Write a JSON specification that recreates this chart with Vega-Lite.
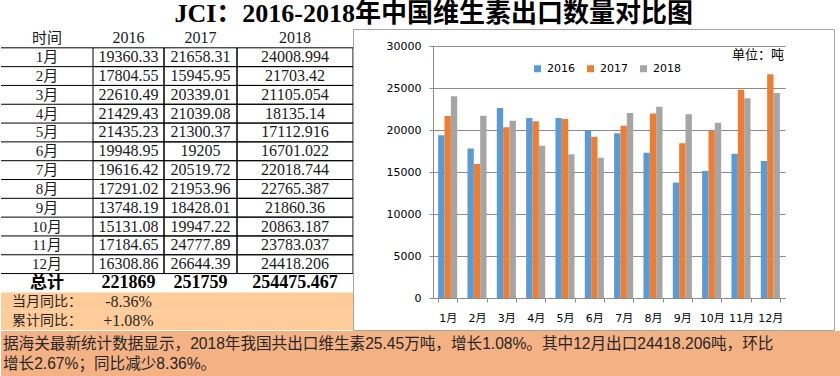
{
  "$schema": "https://vega.github.io/schema/vega-lite/v6.json",
  "padding": 0,
  "background": "white",
  "spacing": 0,
  "resolve": {"legend": {"color": "independent"}},
  "config": {"concat": {"spacing": 0}, "view": {"stroke": null}},
  "title": {"text": "JCI：2016-2018年中国维生素出口数量对比图", "fontSize": 26, "font": "Liberation Serif, Noto Sans CJK SC", "fontWeight": "bold", "anchor": "middle", "dx": 13, "offset": 2, "color": "black"},
  "datasets": {
    "exports": [
      {"month": "1月", "year": "2016", "value": 19360.33},
      {"month": "2月", "year": "2016", "value": 17804.55},
      {"month": "3月", "year": "2016", "value": 22610.49},
      {"month": "4月", "year": "2016", "value": 21429.43},
      {"month": "5月", "year": "2016", "value": 21435.23},
      {"month": "6月", "year": "2016", "value": 19948.95},
      {"month": "7月", "year": "2016", "value": 19616.42},
      {"month": "8月", "year": "2016", "value": 17291.02},
      {"month": "9月", "year": "2016", "value": 13748.19},
      {"month": "10月", "year": "2016", "value": 15131.08},
      {"month": "11月", "year": "2016", "value": 17184.65},
      {"month": "12月", "year": "2016", "value": 16308.86},
      {"month": "1月", "year": "2017", "value": 21658.31},
      {"month": "2月", "year": "2017", "value": 15945.95},
      {"month": "3月", "year": "2017", "value": 20339.01},
      {"month": "4月", "year": "2017", "value": 21039.08},
      {"month": "5月", "year": "2017", "value": 21300.37},
      {"month": "6月", "year": "2017", "value": 19205},
      {"month": "7月", "year": "2017", "value": 20519.72},
      {"month": "8月", "year": "2017", "value": 21953.96},
      {"month": "9月", "year": "2017", "value": 18428.01},
      {"month": "10月", "year": "2017", "value": 19947.22},
      {"month": "11月", "year": "2017", "value": 24777.89},
      {"month": "12月", "year": "2017", "value": 26644.39},
      {"month": "1月", "year": "2018", "value": 24008.994},
      {"month": "2月", "year": "2018", "value": 21703.42},
      {"month": "3月", "year": "2018", "value": 21105.054},
      {"month": "4月", "year": "2018", "value": 18135.14},
      {"month": "5月", "year": "2018", "value": 17112.916},
      {"month": "6月", "year": "2018", "value": 16701.022},
      {"month": "7月", "year": "2018", "value": 22018.744},
      {"month": "8月", "year": "2018", "value": 22765.387},
      {"month": "9月", "year": "2018", "value": 21860.36},
      {"month": "10月", "year": "2018", "value": 20863.187},
      {"month": "11月", "year": "2018", "value": 23783.037},
      {"month": "12月", "year": "2018", "value": 24418.206}
    ],
    "totals": [
      {"year": "2016", "total": 221869},
      {"year": "2017", "total": 251759},
      {"year": "2018", "total": 254475.467}
    ],
    "yoy": [
      {"label": "当月同比：", "change": "-8.36%"},
      {"label": "累计同比：", "change": "+1.08%"}
    ]
  },
  "vconcat": [
    {
      "spacing": 0,
      "bounds": "flush",
      "resolve": {"legend": {"color": "independent"}},
      "hconcat": [
        {
          "width": 92, "height": 301,
          "view": {"stroke": null},
          "layer": [
            {
              "data": {"name": "yoy"},
              "mark": {"type": "rect", "fill": "#FFCC99"},
              "encoding": {"y": {"field": "label", "type": "nominal", "scale": {"domain": ["时间","1月","2月","3月","4月","5月","6月","7月","8月","9月","10月","11月","12月","总计","当月同比：","累计同比："], "paddingInner": 0, "paddingOuter": 0}, "axis": null}}
            },
            {
              "data": {"name": "exports"},
              "transform": [{"filter": "datum.year == '2016'"}],
              "mark": {"type": "rule", "color": "black", "strokeWidth": 1},
              "encoding": {"y": {"field": "month", "type": "nominal", "bandPosition": 0, "axis": null}}
            },
            {
              "data": {"name": "totals"},
              "transform": [{"filter": "datum.year == '2016'"}],
              "mark": {"type": "rule", "color": "black", "strokeWidth": 1},
              "encoding": {"y": {"datum": "总计", "type": "nominal", "bandPosition": 0, "axis": null}}
            },
            {
              "data": {"name": "exports"},
              "transform": [{"filter": "datum.year == '2016'"}],
              "mark": {"type": "text", "font": "Liberation Serif, Noto Sans CJK SC", "fontSize": 15, "color": "#1a1a1a"},
              "encoding": {"y": {"field": "month", "type": "nominal", "axis": null}, "text": {"field": "month", "type": "nominal"}}
            },
            {
              "data": {"name": "totals"},
              "transform": [{"filter": "datum.year == '2016'"}],
              "mark": {"type": "text", "font": "Noto Sans CJK SC", "fontSize": 15, "color": "#1a1a1a"},
              "encoding": {"y": {"datum": "时间", "type": "nominal", "axis": null}, "text": {"value": "时间"}}
            },
            {
              "data": {"name": "totals"},
              "transform": [{"filter": "datum.year == '2016'"}],
              "mark": {"type": "text", "font": "Noto Sans CJK SC", "fontSize": 17, "fontWeight": "bold", "color": "black"},
              "encoding": {"y": {"datum": "总计", "type": "nominal", "axis": null}, "text": {"value": "总计"}}
            },
            {
              "data": {"name": "yoy"},
              "mark": {"type": "text", "font": "Noto Sans CJK SC", "fontSize": 14, "color": "#262626"},
              "encoding": {"y": {"field": "label", "type": "nominal", "axis": null}, "text": {"field": "label", "type": "nominal"}}
            }
          ]
        },
        {
          "width": 71, "height": 301,
          "view": {"stroke": null},
          "layer": [
            {
              "data": {"name": "yoy"},
              "mark": {"type": "rect", "fill": "#FFCC99"},
              "encoding": {"y": {"field": "label", "type": "nominal", "scale": {"domain": ["时间","1月","2月","3月","4月","5月","6月","7月","8月","9月","10月","11月","12月","总计","当月同比：","累计同比："], "paddingInner": 0, "paddingOuter": 0}, "axis": null}}
            },
            {
              "data": {"name": "exports"},
              "transform": [{"filter": "datum.year == '2016'"}],
              "mark": {"type": "rect", "fill": "white", "fillOpacity": 0, "stroke": "black", "strokeWidth": 1},
              "encoding": {"y": {"field": "month", "type": "nominal", "axis": null}}
            },
            {
              "data": {"name": "exports"},
              "transform": [{"filter": "datum.year == '2016'"}],
              "mark": {"type": "text", "font": "Liberation Serif", "fontSize": 16, "color": "#1a1a1a"},
              "encoding": {"y": {"field": "month", "type": "nominal", "axis": null}, "text": {"field": "value", "type": "nominal"}}
            },
            {
              "data": {"name": "totals"},
              "transform": [{"filter": "datum.year == '2016'"}],
              "mark": {"type": "text", "font": "Liberation Serif", "fontSize": 16, "color": "#1a1a1a"},
              "encoding": {"y": {"datum": "时间", "type": "nominal", "axis": null}, "text": {"field": "year", "type": "nominal"}}
            },
            {
              "data": {"name": "totals"},
              "transform": [{"filter": "datum.year == '2016'"}],
              "mark": {"type": "text", "font": "Liberation Serif", "fontSize": 18, "fontWeight": "bold", "color": "black"},
              "encoding": {"y": {"datum": "总计", "type": "nominal", "axis": null}, "text": {"field": "total", "type": "nominal"}}
            },
            {
              "data": {"name": "yoy"},
              "mark": {"type": "text", "font": "Liberation Serif", "fontSize": 16, "color": "#262626"},
              "encoding": {"y": {"field": "label", "type": "nominal", "axis": null}, "text": {"field": "change", "type": "nominal"}}
            }
          ]
        },
        {
          "width": 73, "height": 301,
          "view": {"stroke": null},
          "layer": [
            {
              "data": {"name": "yoy"},
              "mark": {"type": "rect", "fill": "#FFCC99"},
              "encoding": {"y": {"field": "label", "type": "nominal", "scale": {"domain": ["时间","1月","2月","3月","4月","5月","6月","7月","8月","9月","10月","11月","12月","总计","当月同比：","累计同比："], "paddingInner": 0, "paddingOuter": 0}, "axis": null}}
            },
            {
              "data": {"name": "exports"},
              "transform": [{"filter": "datum.year == '2017'"}],
              "mark": {"type": "rect", "fill": "white", "fillOpacity": 0, "stroke": "black", "strokeWidth": 1},
              "encoding": {"y": {"field": "month", "type": "nominal", "axis": null}}
            },
            {
              "data": {"name": "exports"},
              "transform": [{"filter": "datum.year == '2017'"}],
              "mark": {"type": "text", "font": "Liberation Serif", "fontSize": 16, "color": "#1a1a1a"},
              "encoding": {"y": {"field": "month", "type": "nominal", "axis": null}, "text": {"field": "value", "type": "nominal"}}
            },
            {
              "data": {"name": "totals"},
              "transform": [{"filter": "datum.year == '2017'"}],
              "mark": {"type": "text", "font": "Liberation Serif", "fontSize": 16, "color": "#1a1a1a"},
              "encoding": {"y": {"datum": "时间", "type": "nominal", "axis": null}, "text": {"field": "year", "type": "nominal"}}
            },
            {
              "data": {"name": "totals"},
              "transform": [{"filter": "datum.year == '2017'"}],
              "mark": {"type": "text", "font": "Liberation Serif", "fontSize": 18, "fontWeight": "bold", "color": "black"},
              "encoding": {"y": {"datum": "总计", "type": "nominal", "axis": null}, "text": {"field": "total", "type": "nominal"}}
            }
          ]
        },
        {
          "width": 116, "height": 301,
          "view": {"stroke": null},
          "layer": [
            {
              "data": {"name": "yoy"},
              "mark": {"type": "rect", "fill": "#FFCC99"},
              "encoding": {"y": {"field": "label", "type": "nominal", "scale": {"domain": ["时间","1月","2月","3月","4月","5月","6月","7月","8月","9月","10月","11月","12月","总计","当月同比：","累计同比："], "paddingInner": 0, "paddingOuter": 0}, "axis": null}}
            },
            {
              "data": {"name": "exports"},
              "transform": [{"filter": "datum.year == '2018'"}],
              "mark": {"type": "rect", "fill": "white", "fillOpacity": 0, "stroke": "black", "strokeWidth": 1},
              "encoding": {"y": {"field": "month", "type": "nominal", "axis": null}}
            },
            {
              "data": {"name": "exports"},
              "transform": [{"filter": "datum.year == '2018'"}],
              "mark": {"type": "text", "font": "Liberation Serif", "fontSize": 16, "color": "#1a1a1a"},
              "encoding": {"y": {"field": "month", "type": "nominal", "axis": null}, "text": {"field": "value", "type": "nominal"}}
            },
            {
              "data": {"name": "totals"},
              "transform": [{"filter": "datum.year == '2018'"}],
              "mark": {"type": "text", "font": "Liberation Serif", "fontSize": 16, "color": "#1a1a1a"},
              "encoding": {"y": {"datum": "时间", "type": "nominal", "axis": null}, "text": {"field": "year", "type": "nominal"}}
            },
            {
              "data": {"name": "totals"},
              "transform": [{"filter": "datum.year == '2018'"}],
              "mark": {"type": "text", "font": "Liberation Serif", "fontSize": 18, "fontWeight": "bold", "color": "black"},
              "encoding": {"y": {"datum": "总计", "type": "nominal", "axis": null}, "text": {"field": "total", "type": "nominal"}}
            }
          ]
        },
        {
          "width": 481, "height": 301,
          "view": {"stroke": "#A6A6A6", "fill": "white"},
          "title": {"text": "单位：吨", "anchor": "end", "orient": "top", "offset": -33, "dx": -50, "baseline": "top", "fontSize": 13, "fontWeight": "normal", "font": "Noto Sans CJK SC", "color": "black"},
          "data": {"name": "exports"},
          "mark": {"type": "bar"},
          "encoding": {
            "x": {"field": "month", "type": "nominal",
                  "scale": {"domain": ["1月","2月","3月","4月","5月","6月","7月","8月","9月","10月","11月","12月"], "range": [80, 432], "paddingInner": 0.35, "paddingOuter": 0.175},
                  "axis": {"orient": "bottom", "offset": -32, "tickBand": "extent", "labelAngle": 0, "title": null, "domainColor": "#8C8C8C", "tickColor": "#8C8C8C", "tickSize": 4, "labelPadding": 10, "labelFont": "DejaVu Sans, Noto Sans CJK SC", "labelFontSize": 11, "labelColor": "black"}},
            "xOffset": {"field": "year", "type": "nominal", "scale": {"paddingInner": 0, "paddingOuter": 0}},
            "y": {"field": "value", "type": "quantitative",
                  "scale": {"domain": [0, 30000], "range": [269, 17], "nice": false},
                  "axis": {"orient": "left", "offset": -80, "values": [0, 5000, 10000, 15000, 20000, 25000, 30000], "format": "d", "title": null, "grid": true, "gridColor": "#8C8C8C", "domainColor": "#8C8C8C", "tickColor": "#8C8C8C", "tickSize": 4, "labelPadding": 8, "labelFont": "DejaVu Sans", "labelFontSize": 11, "labelColor": "black"}},
            "color": {"field": "year", "type": "nominal",
                      "scale": {"domain": ["2016", "2017", "2018"], "range": ["#5B9BD5", "#ED7D31", "#A5A5A5"]},
                      "legend": {"orient": "none", "legendX": 179, "legendY": 34, "direction": "horizontal", "title": null, "symbolType": "square", "symbolSize": 49, "symbolStrokeWidth": 0, "labelFont": "DejaVu Sans", "labelFontSize": 11, "labelColor": "black", "columnSpacing": 14, "labelOffset": 4}}
          }
        }
      ]
    },
    {
      "width": 840, "height": 48,
      "view": {"fill": "#F4B183", "stroke": null},
      "title": {"text": ["据海关最新统计数据显示，2018年我国共出口维生素25.45万吨，增长1.08%。其中12月出口24418.206吨，环比", "增长2.67%；同比减少8.36%。"], "anchor": "start", "orient": "top", "offset": -42, "dx": 2, "baseline": "top", "lineHeight": 20, "fontSize": 15.6, "fontWeight": "normal", "font": "Liberation Sans, Noto Sans CJK SC", "color": "#262626"},
      "data": {"values": [{}]},
      "mark": {"type": "text"},
      "encoding": {"text": {"value": ""}}
    }
  ]
}
